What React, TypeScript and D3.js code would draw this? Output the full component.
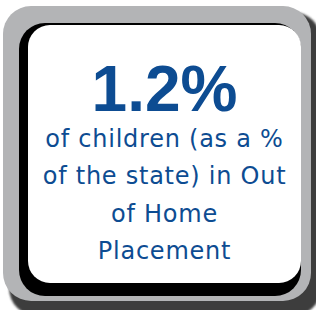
import React, { useEffect, useRef } from 'react';
import * as d3 from 'd3';

const statValues = [1.2];
const statUnits = ['%'];
const labelLines = ['of children (as a %', 'of the state) in Out', 'of Home', 'Placement'];

const width = 316;
const height = 310;
const blue = '#0d4c92';

export default function App() {
    const node = useRef<SVGSVGElement | null>(null);

    useEffect(() => {
        const svg = d3.select(node.current);
        svg.selectAll('*').remove();

        // soft shadow behind the gray frame
        const defs = svg.append('defs');
        defs.append('filter').attr('id', 'blur')
            .append('feGaussianBlur').attr('stdDeviation', 1.2);

        svg.append('rect')
            .attr('x', 9).attr('y', 12)
            .attr('width', 312).attr('height', 304)
            .attr('rx', 28)
            .attr('fill', '#3e3e3e')
            .attr('filter', 'url(#blur)');

        svg.append('rect')
            .attr('x', 3).attr('y', 6)
            .attr('width', 308).attr('height', 295)
            .attr('rx', 28)
            .attr('fill', '#b3b4b6');

        // black inner shadow then the white card
        svg.append('rect')
            .attr('x', 19).attr('y', 23)
            .attr('width', 282).attr('height', 273)
            .attr('rx', 26)
            .attr('fill', '#000');

        svg.append('rect')
            .attr('x', 28).attr('y', 25)
            .attr('width', 273).attr('height', 258)
            .attr('rx', 22)
            .attr('fill', '#fff');

        const cx = 164.5;
        const fmt = d3.format('.1f');

        svg.selectAll('text.stat')
            .data(statValues)
            .enter()
            .append('text')
            .attr('class', 'stat')
            .attr('x', cx)
            .attr('y', 111)
            .attr('text-anchor', 'middle')
            .attr('font-family', '"Liberation Sans", Arial, sans-serif')
            .attr('font-weight', 'bold')
            .attr('font-size', 64)
            .attr('fill', blue)
            .text((d, i) => fmt(d) + statUnits[i]);

        const lineY = d3.scaleLinear()
            .domain([0, labelLines.length - 1])
            .range([147, 259]);

        svg.selectAll('text.label')
            .data(labelLines)
            .enter()
            .append('text')
            .attr('class', 'label')
            .attr('x', cx)
            .attr('y', (d, i) => lineY(i))
            .attr('text-anchor', 'middle')
            .attr('font-family', '"DejaVu Sans", sans-serif')
            .attr('font-size', 24)
            .attr('letter-spacing', 0.75)
            .attr('fill', blue)
            .text(d => d);
    }, []);

    return (
        <svg ref={node} width={width} height={height}
             style={{ position: 'absolute', left: 0, top: 0, display: 'block' }} />
    );
}
